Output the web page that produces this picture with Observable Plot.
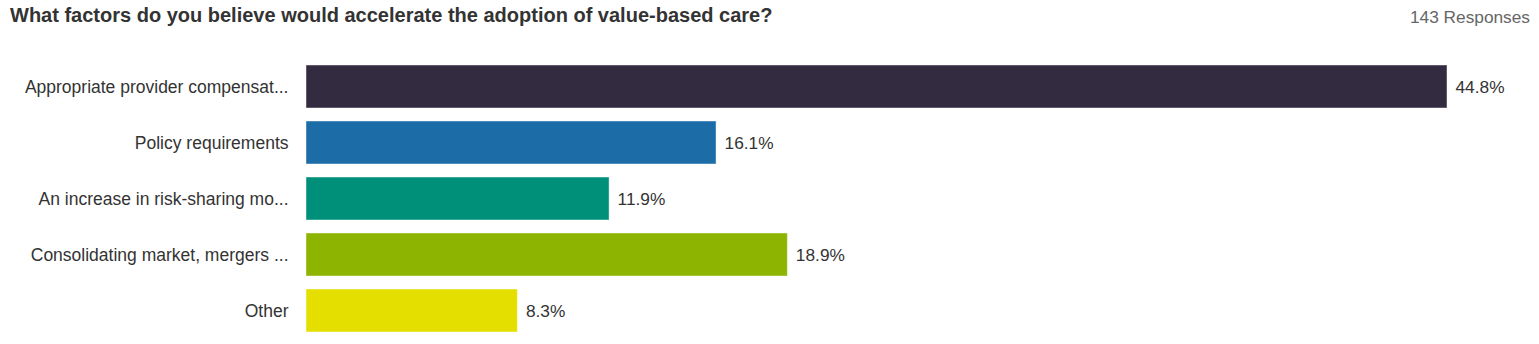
<!DOCTYPE html>
<html>
<head>
<meta charset="utf-8">
<script src="https://cdn.jsdelivr.net/npm/d3@7"></script>
<script src="https://cdn.jsdelivr.net/npm/@observablehq/plot@0.6"></script>
<style>
  html, body { margin: 0; padding: 0; background: #fff; }
  body { width: 1539px; height: 344px; overflow: hidden; font-family: "Liberation Sans", Arial, sans-serif; }
  #header { position: relative; height: 50px; }
  #title { position: absolute; left: 10px; top: 4px; font-size: 20px; font-weight: bold; color: #333; white-space: nowrap; line-height: 23px; }
  #responses { position: absolute; right: 9px; top: 7px; font-size: 17.3px; color: #666; white-space: nowrap; line-height: 20px; }
  #chart svg { display: block; }
</style>
</head>
<body>
<div id="header">
  <div id="title">What factors do you believe would accelerate the adoption of value-based care?</div>
  <div id="responses">143 Responses</div>
</div>
<div id="chart"></div>
<script>
const categories = [
  "Appropriate provider compensat...",
  "Policy requirements",
  "An increase in risk-sharing mo...",
  "Consolidating market, mergers ...",
  "Other"
];
const values = [44.8, 16.1, 11.9, 18.9, 8.3];
const colors = ["#332b40", "#1c6ca8", "#008f78", "#8cb400", "#e5df00"];

const data = categories.map((c, i) => ({category: c, value: values[i], color: colors[i]}));

const chart = Plot.plot({
  width: 1539,
  height: 294,
  marginLeft: 306,
  marginRight: 92,
  marginTop: 8,
  marginBottom: 4.5,
  style: {fontFamily: "'Liberation Sans', Arial, sans-serif", fontSize: "17.5px", color: "#333", background: "#fff"},
  x: {domain: [0, 44.8], axis: null},
  y: {domain: categories, paddingInner: 0.236, paddingOuter: 0.118, label: null},
  marks: [
    Plot.barX(data, {x: "value", y: "category", fill: "color", stroke: "#ffffff", strokeOpacity: 0.45, strokeWidth: 1, inset: 0}),
    Plot.text(data, {x: "value", y: "category", text: d => d.value.toFixed(1) + "%", textAnchor: "start", dx: 8, fill: "#333", fontSize: 17.3}),
    Plot.axisY({tickSize: 0, tickPadding: 18, fontSize: 17.5, fill: "#333", label: null})
  ]
});
document.getElementById("chart").appendChild(chart);
</script>
</body>
</html>
